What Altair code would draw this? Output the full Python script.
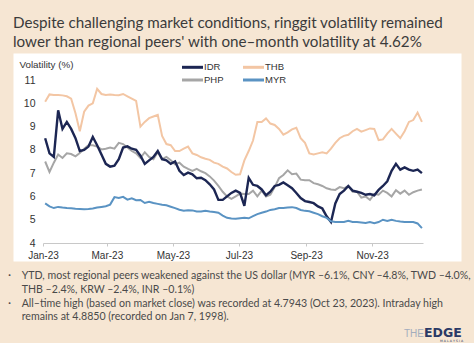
import altair as alt
import pandas as pd

# ---------------- data ----------------
dates = [
    "2023-01-03", "2023-01-07", "2023-01-11", "2023-01-15", "2023-01-19", "2023-01-23", "2023-01-27", "2023-01-31",
    "2023-02-04", "2023-02-08", "2023-02-12", "2023-02-16", "2023-02-20", "2023-02-24", "2023-02-28",
    "2023-03-04", "2023-03-08", "2023-03-12", "2023-03-16", "2023-03-20", "2023-03-24", "2023-03-28",
    "2023-04-01", "2023-04-05", "2023-04-09", "2023-04-13", "2023-04-17", "2023-04-21", "2023-04-25", "2023-04-29",
    "2023-05-03", "2023-05-07", "2023-05-11", "2023-05-15", "2023-05-19", "2023-05-23", "2023-05-27", "2023-05-31",
    "2023-06-04", "2023-06-08", "2023-06-12", "2023-06-16", "2023-06-20", "2023-06-24", "2023-06-28",
    "2023-07-02", "2023-07-06", "2023-07-10", "2023-07-14", "2023-07-18", "2023-07-22", "2023-07-26", "2023-07-30",
    "2023-08-03", "2023-08-07", "2023-08-11", "2023-08-15", "2023-08-19", "2023-08-23", "2023-08-27", "2023-08-31",
    "2023-09-04", "2023-09-08", "2023-09-12", "2023-09-16", "2023-09-20", "2023-09-24", "2023-09-28",
    "2023-10-02", "2023-10-06", "2023-10-10", "2023-10-14", "2023-10-18", "2023-10-22", "2023-10-26", "2023-10-30",
    "2023-11-03", "2023-11-07", "2023-11-11", "2023-11-15", "2023-11-19", "2023-11-23", "2023-11-27",
    "2023-12-01", "2023-12-05", "2023-12-09", "2023-12-13", "2023-12-17",
]

idr = [8.5, 7.85, 7.7, 9.7, 8.9, 9.2, 8.9, 8.5, 7.95, 8.0,
       8.14, 8.55, 8.2, 7.8, 7.4, 7.28, 7.32, 7.6, 8.1, 8.15,
       8.05, 8.0, 7.75, 7.4, 7.55, 7.7, 7.95, 7.6, 7.55, 7.4,
       7.5, 7.1, 6.92, 7.02, 6.95, 6.78, 6.8, 6.7, 6.52, 6.3,
       5.85, 5.85, 6.0, 6.15, 6.25, 6.15, 5.6, 6.8, 6.5, 6.45,
       6.3, 6.05, 6.2, 6.45, 6.5, 6.6, 6.48, 6.35, 6.15, 5.93,
       5.8, 5.76, 5.71, 5.57, 5.48, 5.15, 4.9, 5.7, 6.1, 6.25,
       6.45, 6.25, 6.2, 6.15, 6.07, 6.1, 6.05, 6.28, 6.45, 6.65,
       7.1, 7.4, 7.15, 7.25, 7.15, 7.1, 7.15, 7.0]

thb = [10.07, 10.38, 10.36, 10.36, 10.34, 10.3, 10.2, 9.57, 8.8, 9.64,
       9.9, 10.0, 10.62, 10.4, 10.36, 10.38, 10.36, 10.35, 10.4, 10.3,
       10.2, 10.1, 9.0, 9.2, 9.36, 9.43, 9.5, 8.6, 8.25, 8.2,
       7.95, 7.95, 8.05, 8.14, 7.85, 7.78, 7.68, 7.62, 7.57, 7.45,
       7.4, 7.28, 7.2, 7.05, 6.93, 6.95, 7.55, 7.95, 8.4, 9.2,
       9.2, 9.35, 9.13, 9.07, 8.9, 8.65, 8.75, 8.88, 8.95, 8.5,
       8.3, 7.85, 7.8, 7.85, 7.9, 7.85, 8.05, 8.3, 8.5, 8.6,
       8.65, 8.8, 8.9, 8.78, 8.85, 8.92, 8.9, 8.42, 8.45, 8.7,
       8.9, 8.7, 8.5, 8.8, 9.2, 9.28, 9.6, 9.2]

php = [7.5, 7.05, 7.45, 7.8, 7.65, 7.85, 7.82, 7.72, 7.86, 8.05,
       8.2, 8.2, 8.14, 8.02, 8.05, 8.1, 8.05, 8.3, 8.25, 8.1,
       7.95, 7.85, 7.65, 7.9, 7.7, 7.6, 7.9, 7.6, 7.7, 7.55,
       7.38, 7.45, 7.28, 7.18, 7.1, 7.18, 7.08, 7.0, 6.86, 6.68,
       6.45, 6.2, 6.0, 5.9, 6.0, 6.12, 6.1, 6.1, 6.25, 6.0,
       6.25, 6.0, 6.07, 6.4, 6.78, 6.92, 7.12, 6.95, 6.98, 6.72,
       6.7, 6.7, 6.57, 6.52, 6.45, 6.35, 6.3, 6.28, 6.4, 6.35,
       6.45, 6.2, 6.2, 5.95, 6.0, 5.85, 6.1, 6.07, 6.25, 6.15,
       6.0, 6.27, 6.12, 6.25, 6.07, 6.18, 6.25, 6.3]

myr = [5.7, 5.57, 5.5, 5.55, 5.52, 5.5, 5.49, 5.47, 5.46, 5.45,
       5.46, 5.48, 5.52, 5.55, 5.58, 5.65, 5.97, 5.93, 5.98, 5.86,
       5.92, 5.84, 5.85, 5.72, 5.77, 5.72, 5.68, 5.64, 5.62, 5.56,
       5.5, 5.43, 5.39, 5.41, 5.4, 5.35, 5.35, 5.38, 5.35, 5.33,
       5.3, 5.18, 5.08, 5.05, 5.04, 5.06, 5.08, 5.06, 5.15, 5.24,
       5.3, 5.35, 5.42, 5.45, 5.5, 5.5, 5.52, 5.54, 5.5, 5.42,
       5.38, 5.36, 5.3, 5.24, 5.15, 5.08, 4.93, 4.9, 4.9, 4.9,
       4.95, 4.9, 4.9, 4.88, 4.86, 4.9, 4.85, 4.9, 5.0, 4.95,
       5.0, 4.95, 4.92, 4.9, 4.9, 4.9, 4.84, 4.64]

series_names = ["IDR", "THB", "PHP", "MYR"]
y_ticks = [4, 5, 6, 7, 8, 9, 10, 11]

title_lines = [
    "Despite challenging market conditions, ringgit volatility remained",
    "lower than regional peers' with one\u2013month volatility at 4.62%",
]
note_lines = [
    "YTD, most regional peers weakened against the US dollar (MYR \u20136.1%, CNY \u20134.8%, TWD \u20134.0%,",
    "THB \u20132.4%, KRW \u20132.4%, INR \u20130.1%)",
    "All\u2013time high (based on market close) was recorded at 4.7943 (Oct 23, 2023). Intraday high",
    "remains at 4.8850 (recorded on Jan 7, 1998).",
]

# ---------------- styling ----------------
colors = {"IDR": "#1c2653", "THB": "#f3c6a4", "PHP": "#a6a6a6", "MYR": "#5a93c3"}
widths = {"IDR": 2.4, "THB": 2.0, "PHP": 2.0, "MYR": 2.0}
draw_order = ["THB", "PHP", "IDR", "MYR"]
SANS = "Liberation Sans"
HUMAN = "Lato"
BG = "#f6e6d3"

values = {"IDR": idr, "THB": thb, "PHP": php, "MYR": myr}
rows = []
for name in draw_order:
    for d, v in zip(dates, values[name]):
        rows.append({"date": d, "series": name, "value": v})
df = pd.DataFrame(rows)

one = pd.DataFrame({"k": [0]})

W, H = 380, 163

x_enc = alt.X(
    "date:T",
    scale=alt.Scale(type="utc", domain=[alt.DateTime(year=2023, month=1, date=1, utc=True),
                                        alt.DateTime(year=2023, month=12, date=18, utc=True)]),
    axis=alt.Axis(
        values=[alt.DateTime(year=2023, month=m, date=1, utc=True) for m in [1, 3, 5, 7, 9, 11]],
        format="%b-%y", labelFlush=False, grid=False, title=None, zindex=1,
        domainColor="#c8c8c8", tickColor="#c8c8c8", tickSize=3, labelPadding=4,
        labelFont=SANS, labelFontSize=10, labelColor="#333333",
    ),
)
y_enc = alt.Y(
    "value:Q",
    scale=alt.Scale(domain=[4, 11], nice=False, zero=False),
    axis=alt.Axis(values=y_ticks, domain=False, ticks=False, grid=False, title=None, zindex=1,
                  labelPadding=8, labelFont=SANS, labelFontSize=10.5, labelColor="#333333"),
)

layers = []
# white panel
layers.append(alt.Chart(one).mark_rect(color="white").encode(
    x=alt.value(-29.5), x2=alt.value(418.5), y=alt.value(-26.5), y2=alt.value(181.5)))

for name in draw_order:
    layers.append(
        alt.Chart(df).transform_filter(alt.datum.series == name)
        .mark_line(color=colors[name], strokeWidth=widths[name])
        .encode(x=x_enc, y=y_enc)
    )

def txt(s, x, y, size, color="#333333", font=SANS, weight="normal", baseline="alphabetic", align="left"):
    return alt.Chart(one).mark_text(
        align=align, baseline=baseline, font=font, fontSize=size, color=color, fontWeight=weight
    ).encode(x=alt.value(x), y=alt.value(y), text=alt.value(s))

# y axis title
layers.append(txt("Volatility (%)", -23.5, -15, 9.8, baseline="middle"))

# legend (manual)
leg_pos = {"IDR": (139, -12.7), "THB": (200, -12.7), "PHP": (139, 0), "MYR": (200, 0)}
for name in series_names:
    lx, ly = leg_pos[name]
    layers.append(alt.Chart(one).mark_rule(color=colors[name], strokeWidth=3).encode(
        x=alt.value(lx), x2=alt.value(lx + 21), y=alt.value(ly)))
    layers.append(txt(name, lx + 22, ly, 9.5, baseline="middle"))

# title
layers.append(txt(title_lines[0], -30, -52, 15.2, color="#3b3b3b", font=HUMAN))
layers.append(txt(title_lines[1], -30, -33, 15.2, color="#3b3b3b", font=HUMAN))

# notes
note_y = [199.3, 212.7, 226.7, 240]
for i, line in enumerate(note_lines):
    layers.append(txt(line, -21.3, note_y[i], 10.6, color="#4a4a4a", font=HUMAN))
layers.append(txt("\u00b7", -35, note_y[0], 12, color="#4a4a4a", font=HUMAN))
layers.append(txt("\u00b7", -35, note_y[2], 12, color="#4a4a4a", font=HUMAN))

# logo
layers.append(txt("THE", 381, 256.7, 10, color="#a3adbd", align="right"))
layers.append(txt("EDGE", 381, 256.7, 12.5, color="#2b3a66", font="DejaVu Sans", weight="bold"))
layers.append(txt("M A L A Y S I A", 397, 261.5, 3.2, color="#2b3a66", font="DejaVu Sans"))

chart = alt.layer(*layers).properties(
    width=W, height=H,
    autosize=alt.AutoSizeParams(type="none"),
    padding={"left": 43, "top": 80, "right": 51, "bottom": 100},
    background=BG,
).configure_view(stroke=None)

chart.save("out.html", embed_options={"renderer": "svg", "actions": False})
